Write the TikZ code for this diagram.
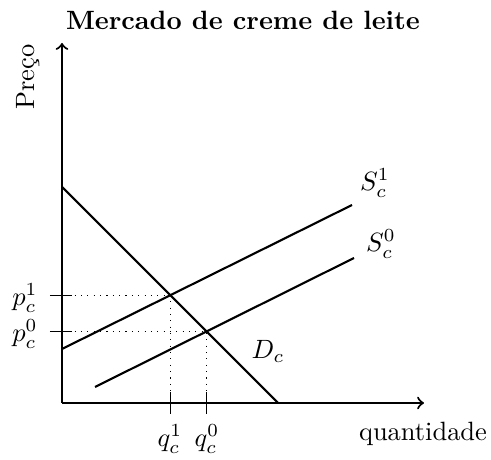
\documentclass[tikz,border=0pt]{standalone}
\usetikzlibrary{intersections,calc}
\begin{document}
\begin{tikzpicture}[x=0.378pt,y=-0.378pt,
  axis/.style={thick,->},
  curve/.style={thick},
  guide/.style={thin,dotted},
  tick/.style={thin}]
\useasboundingbox (0,0) rectangle (491,460);
% axes
\coordinate (O) at (62,403);
\coordinate (ytop) at (62,43);
\coordinate (xend) at (424,403);
\draw[axis] (O) -- (ytop);
\draw[axis] (O) -- (xend);
\node[font=\bfseries] (title) at (243,20) {Mercado de creme de leite};
\node[rotate=90] (ylab) at (28,77) {Preço};
\node (xlab) at (423,434) {quantidade};
% curves
\coordinate (d0) at (62,187);
\coordinate (d1) at (278,403);
\coordinate (sa0) at (62,349);
\coordinate (sa1) at (352,205);
\coordinate (sb0) at (95,387);
\coordinate (sb1) at (354,258);
\draw[curve,name path=D] (d0) -- (d1);
\draw[curve,name path=S1] (sa0) -- (sa1);
\draw[curve,name path=S0] (sb0) -- (sb1);
\path[name intersections={of=D and S1,by=E1}];
\path[name intersections={of=D and S0,by=E0}];
\node (lS1) at (375,183) {$S_c^1$};
\node (lS0) at (381,244) {$S_c^0$};
\node (lD) at (268,351) {$D_c$};
% guides
\coordinate (p1) at (O |- E1);
\coordinate (p0) at (O |- E0);
\coordinate (q1) at (E1 |- O);
\coordinate (q0) at (E0 |- O);
\draw[guide] (p1) -- (E1) -- (q1);
\draw[guide] (p0) -- (E0) -- (q0);
% ticks
\draw[tick] ($(p1)+(-12,0)$) -- ($(p1)+(10,0)$);
\draw[tick] ($(p0)+(-12,0)$) -- ($(p0)+(10,0)$);
\draw[tick] ($(q1)+(0,-11)$) -- ($(q1)+(0,11)$);
\draw[tick] ($(q0)+(0,-11)$) -- ($(q0)+(0,11)$);
\node (lp1) at (25,298) {$p_c^1$};
\node (lp0) at (25,334) {$p_c^0$};
\node (lq1) at (170,439) {$q_c^1$};
\node (lq0) at (207,439) {$q_c^0$};
\end{tikzpicture}
\end{document}
